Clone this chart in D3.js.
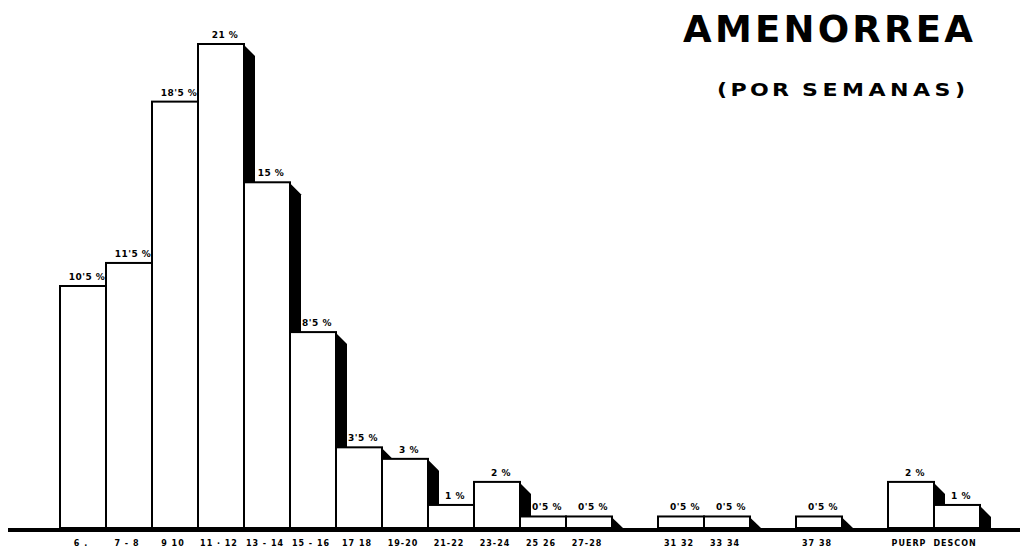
<!DOCTYPE html>
<html>
<head>
<meta charset="utf-8">
<script src="https://cdn.jsdelivr.net/npm/d3@7"></script>
<style>
  html, body { margin: 0; padding: 0; background: #fff; }
  svg { display: block; }
</style>
</head>
<body>
<svg id="chart" width="1023" height="552"></svg>
<script>
// Week groups of amenorrhea (empty slots keep the spacing of the printed chart)
const categories = ["6", "7-8", "9-10", "11-12", "13-14", "15-16", "17-18", "19-20", "21-22", "23-24",
                    "25-26", "27-28", "29-30", "31-32", "33-34", "35-36", "37-38", "39-40", "PUERP", "DESCON"];
// Percentage of cases per group (null = no cases, nothing drawn)
const values = [10.5, 11.5, 18.5, 21, 15, 8.5, 3.5, 3, 1, 2,
                0.5, 0.5, null, 0.5, 0.5, null, 0.5, null, 2, 1];
// Axis labels as printed under each slot
const tickLabels = ["6 .", "7 - 8", "9 10", "11 · 12", "13 - 14", "15 - 16", "17 18", "19-20", "21-22", "23-24",
                    "25 26", "27-28", "", "31 32", "33 34", "", "37 38", "", "PUERP", "DESCON"];

const title = "AMENORREA";
const subtitleWords = ["(POR", "SEMANAS)"];

const svg = d3.select("#chart");

const x = d3.scaleBand().domain(categories).range([60, 980]).padding(0);
const y = d3.scaleLinear().domain([0, 21]).range([528, 44]);
const y0 = y(0);
const depth = 11; // width of the black side shadow

const fmt = v => String(v).replace(".", "'") + " %";

const data = categories.map((c, i) => ({ c, v: values[i], label: tickLabels[i] }));
const bars = data.filter(d => d.v != null);

// Each bar: shadow first, then the white box, so later boxes hide earlier shadows
const g = svg.append("g");
bars.forEach(d => {
  const x0 = x(d.c), x1 = x0 + x.bandwidth(), top = y(d.v);
  g.append("polygon")
    .attr("points", [
      [x1 - 1, top],
      [x1 + depth, Math.min(top + depth + 1, y0)],
      [x1 + depth, y0],
      [x1 - 1, y0]
    ].map(p => p.join(",")).join(" "))
    .attr("fill", "#000");
  g.append("rect")
    .attr("x", x0)
    .attr("y", top)
    .attr("width", x.bandwidth())
    .attr("height", y0 - top)
    .attr("fill", "#fff")
    .attr("stroke", "#000")
    .attr("stroke-width", 2);
});

// Value labels above each bar
svg.append("g").selectAll("text")
  .data(bars)
  .join("text")
  .attr("x", d => x(d.c) + x.bandwidth() / 2 + 4)
  .attr("y", d => y(d.v) - 6)
  .attr("text-anchor", "middle")
  .attr("font-family", "DejaVu Sans, sans-serif")
  .attr("font-weight", "bold")
  .attr("font-size", 9)
  .attr("letter-spacing", 0.5)
  .attr("fill", "#000")
  .text(d => fmt(d.v));

// Baseline
svg.append("line")
  .attr("x1", 8).attr("x2", 1020)
  .attr("y1", y0 + 2).attr("y2", y0 + 2)
  .attr("stroke", "#000")
  .attr("stroke-width", 4);

// Category axis labels
const axis = d3.axisBottom(x).tickSize(0).tickFormat((c, i) => tickLabels[i]);
const ax = svg.append("g")
  .attr("transform", `translate(-2,${y0 + 9})`)
  .call(axis);
ax.select(".domain").remove();
ax.selectAll("text")
  .attr("font-family", "DejaVu Sans, sans-serif")
  .attr("font-weight", "bold")
  .attr("font-size", 8)
  .attr("letter-spacing", 1)
  .attr("fill", "#000");

// Title block
svg.append("text")
  .attr("x", 683).attr("y", 42)
  .attr("font-family", "DejaVu Sans, sans-serif")
  .attr("font-weight", "bold")
  .attr("font-size", 37)
  .attr("textLength", 290)
  .attr("lengthAdjust", "spacing")
  .attr("fill", "#000")
  .text(title);

// Subtitle in a wide, stretched face
const sx = 1.3;
const sub = svg.append("g")
  .attr("transform", `scale(${sx},1)`)
  .attr("font-family", "DejaVu Sans, sans-serif")
  .attr("font-weight", "bold")
  .attr("font-size", 17)
  .attr("fill", "#000");
sub.append("text").attr("x", 717 / sx).attr("y", 96)
  .attr("textLength", 72 / sx).attr("lengthAdjust", "spacing")
  .text(subtitleWords[0]);
sub.append("text").attr("x", 802 / sx).attr("y", 96)
  .attr("textLength", 163 / sx).attr("lengthAdjust", "spacing")
  .text(subtitleWords[1]);
</script>
</body>
</html>
